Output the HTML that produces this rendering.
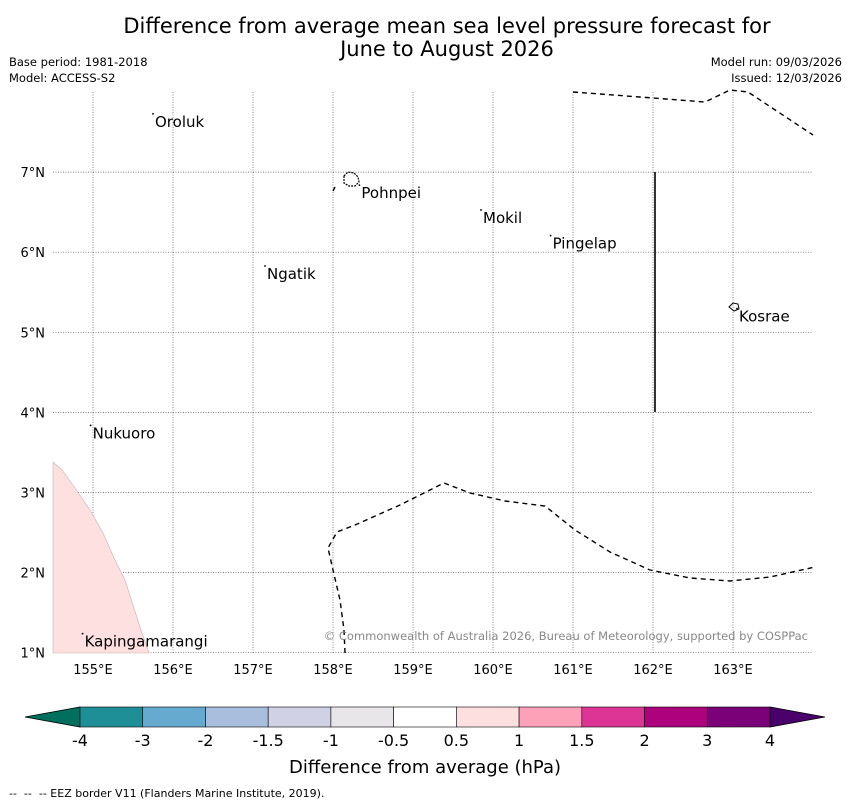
<!DOCTYPE html>
<html><head><meta charset="utf-8"><style>
body{margin:0;background:#fff;}
svg text{font-family:"DejaVu Sans","Liberation Sans",sans-serif;}
</style></head><body>
<svg id="c" width="850" height="804" xmlns="http://www.w3.org/2000/svg">
<text x="447" y="33" text-anchor="middle" font-size="21">Difference from average mean sea level pressure forecast for</text>
<text x="447" y="56" text-anchor="middle" font-size="21">June to August 2026</text>
<text x="9" y="66" font-size="11.5">Base period: 1981-2018</text>
<text x="9" y="82" font-size="11.5">Model: ACCESS-S2</text>
<text x="842" y="66" font-size="11.5" text-anchor="end">Model run: 09/03/2026</text>
<text x="842" y="82" font-size="11.5" text-anchor="end">Issued: 12/03/2026</text>
<g id="grid"></g>
<polygon points="53,462 62,470 75,488 90,510 103,533 115,560 125,580 133,605 141,630 149,653 53,653" fill="#fde0df" stroke="#c8b0b0" stroke-width="0.6"/>
<g fill="none" stroke="#000" stroke-width="1.4" stroke-dasharray="5,4">
<polyline points="573,92 640,97 705,102 730,90 748,92 813,135"/>
<polyline points="345,653 344,630 340,600 333,570 328,548 337,532 355,525 400,505 430,490 444,483 470,493 505,501 545,506 575,530 610,552 650,570 690,578 730,581 770,577 815,567"/>
<polyline points="333,191 335,187"/>
</g>
<line x1="655" y1="172" x2="655" y2="412" stroke="#000" stroke-width="1.6"/>
<path d="M344,176 l4,-4 l6,1 l4,4 l1,5 l-4,4 l-6,0 l-5,-3 z" fill="none" stroke="#000" stroke-width="1.2" stroke-dasharray="2,1"/>
<path d="M729,307 l4,-4 l5,1 l1,5 l-5,2 z" fill="none" stroke="#000" stroke-width="1"/>
<g id="islands"></g>
<g id="axes"></g>
<text x="808" y="640" font-size="11.5" text-anchor="end" fill="#888">© Commonwealth of Australia 2026, Bureau of Meteorology, supported by COSPPac</text>
<g id="cbar"></g>
<text x="425" y="773" font-size="18" text-anchor="middle">Difference from average (hPa)</text>
<text x="9" y="797" font-size="11" xml:space="preserve">--  --  -- EEZ border V11 (Flanders Marine Institute, 2019).</text>
</svg>
<script>
const lonTicks=[155,156,157,158,159,160,161,162,163];
const latTicks=[1,2,3,4,5,6,7];
const islandNames=["Oroluk","Pohnpei","Mokil","Pingelap","Ngatik","Kosrae","Nukuoro","Kapingamarangi"];
const islandLon=[155.75,158.33,159.85,160.72,157.15,163.05,154.97,154.87];
const islandLat=[7.64,6.75,6.44,6.12,5.74,5.21,3.75,1.15];
const cbarLabels=["-4","-3","-2","-1.5","-1","-0.5","0.5","1","1.5","2","3","4"];
const cbarColors=["#1f8f97","#66aacf","#a9bddd","#d1d1e6","#e8e6e9","#ffffff","#fddfdf","#fca1b8","#dd3595","#ae017e","#7a0177"];
const NS="http://www.w3.org/2000/svg";
const x=lon=>53+(lon-154.5)*80, y=lat=>92+(8-lat)*80.1;
function mk(t,a,p){const e=document.createElementNS(NS,t);for(const k in a)e.setAttribute(k,a[k]);p.appendChild(e);return e;}
const g=document.getElementById('grid'),ax=document.getElementById('axes');
lonTicks.forEach(v=>{
 const l=mk('line',{x1:x(v),x2:x(v),y1:92,y2:653,stroke:'#555','stroke-width':0.7,'stroke-dasharray':'1,1.5'},g);
 
 
 const t=mk('text',{x:x(v),y:674,'font-size':13,'text-anchor':'middle'},ax);t.textContent=v+'°E';
 
 
});
latTicks.forEach(v=>{
 const l=mk('line',{x1:53,x2:813,y1:y(v),y2:y(v),stroke:'#555','stroke-width':0.7,'stroke-dasharray':'1,1.5'},g);
 
 
 const t=mk('text',{x:45,y:y(v)+5,'font-size':13,'text-anchor':'end'},ax);t.textContent=v+'°N';
 
 
});
const isl=document.getElementById('islands');
islandNames.forEach((n,i)=>{
 const t=mk('text',{x:x(islandLon[i])+2,y:y(islandLat[i])+6,'font-size':15},isl);t.textContent=n;
 
 
 const d=mk('circle',{cx:x(islandLon[i]),cy:y(islandLat[i])-7,r:0.9,fill:'#000'},isl);
 
 
});
const cb=document.getElementById('cbar');const cx0=80,cx1=770,n=cbarColors.length,w=(cx1-cx0)/n;
const lt=mk('polygon',{points:`25,717 ${cx0},707 ${cx0},727`,fill:'#00705e',stroke:'#000','stroke-width':0.8},cb);


const rt=mk('polygon',{points:`825,717 ${cx1},707 ${cx1},727`,fill:'#49006a',stroke:'#000','stroke-width':0.8},cb);


cbarColors.forEach((c,i)=>{
 const r=mk('rect',{x:cx0+i*w,y:707,width:w,height:20,fill:c,stroke:'#000','stroke-width':0.6},cb);
 
 
});
cbarLabels.forEach((l,i)=>{
 const t=mk('text',{x:cx0+i*w,y:746,'font-size':16,'text-anchor':'middle'},cb);t.textContent=l;
 
 
});
</script>
</body></html>
